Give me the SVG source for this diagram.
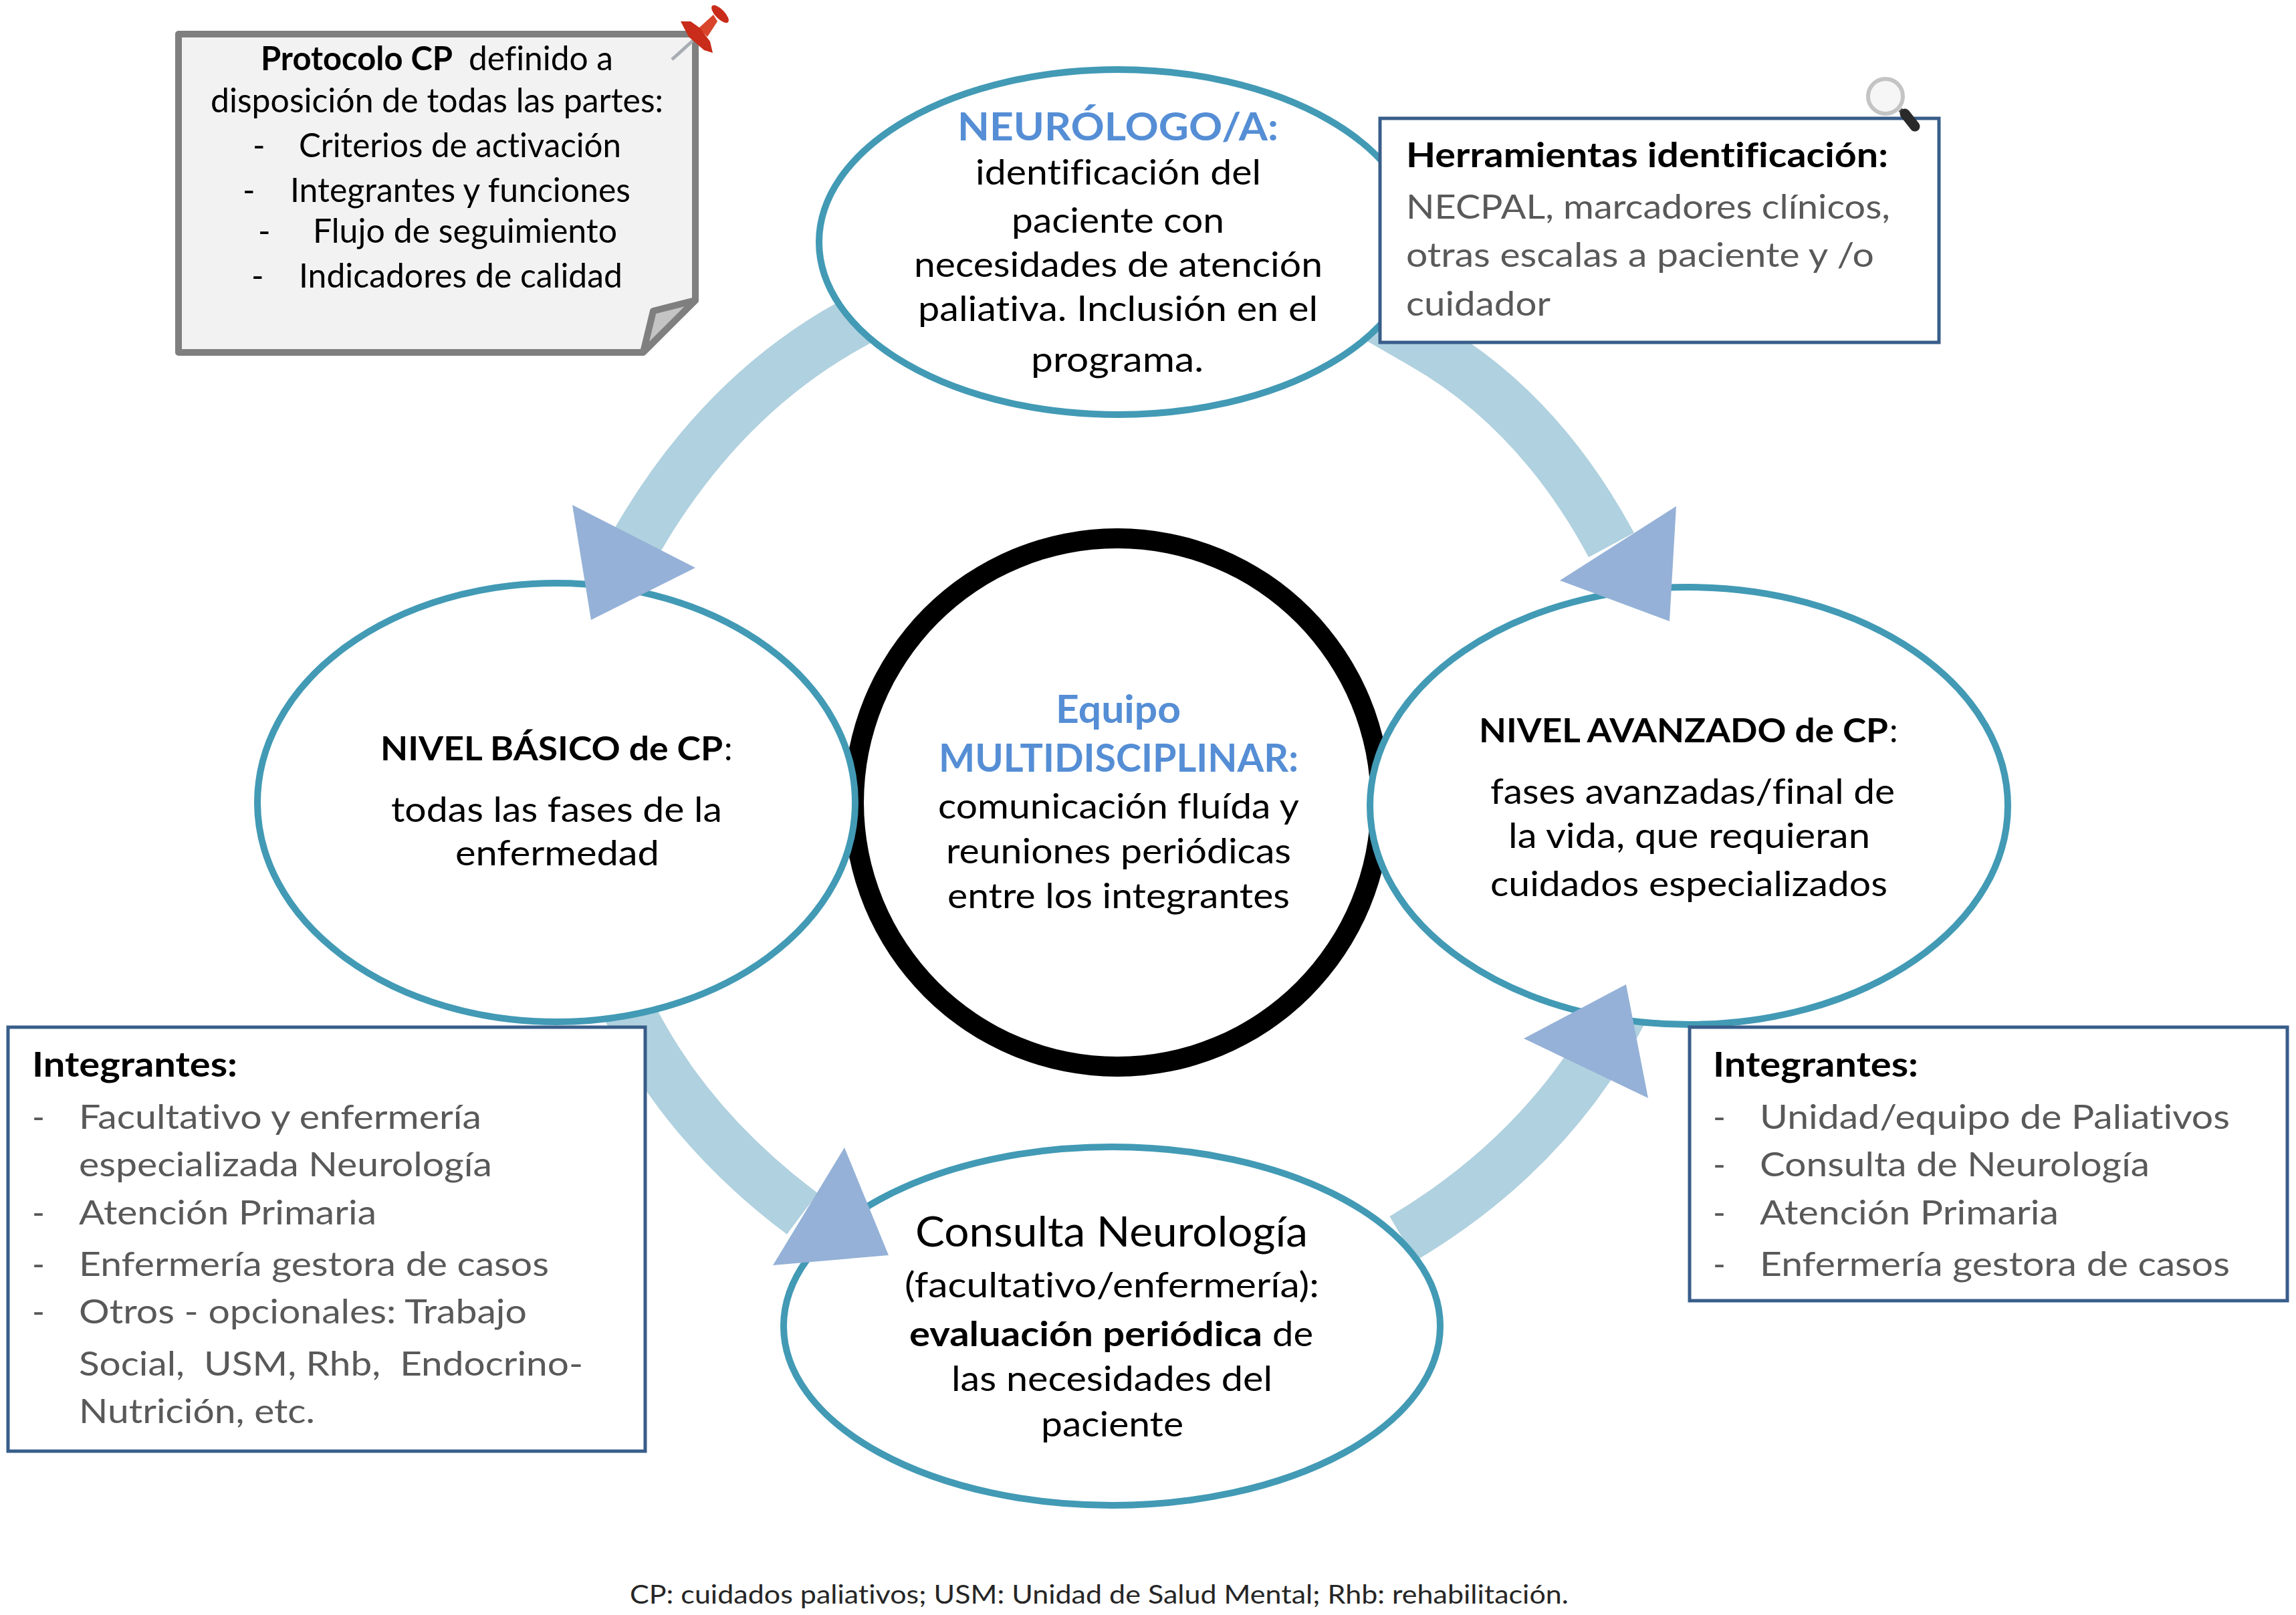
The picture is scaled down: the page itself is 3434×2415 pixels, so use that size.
<svg xmlns="http://www.w3.org/2000/svg" width="3434" height="2415" viewBox="0 0 3434 2415">
<style>
text{font-family:Lato,Carlito,"Liberation Sans",sans-serif;fill:#000;font-variant-ligatures:none}
.m{font-size:52px}
.n{font-size:50px}
.b{font-weight:700}
.g{fill:#595959;font-size:51px}
.h{font-weight:700;font-size:51px}
.blue{fill:#558ed5;font-weight:700;font-size:58px}
.f{font-size:38px;fill:#262626}
.el{fill:#fff;stroke:#429ab5;stroke-width:10}
.band{fill:none;stroke:#b0d1df;stroke-width:77}
.tri{fill:#95b1d7}
.box{fill:#fff;stroke:#385d8a;stroke-width:5}
</style>
<rect width="3434" height="2415" fill="#fff"/>
<g id="connectors">
<path class="band" d="M1300 470L1273 485Q1080 591 955 805L940 832"/>
<path class="band" d="M2040 463L2127 513Q2301 612 2410 815"/>
<path class="band" d="M935 1500Q1020 1680 1200 1815"/>
<path class="band" d="M2098 1852Q2320 1720 2430 1505"/>
</g>
<g id="node-equipo">
<ellipse cx="1671" cy="1200" rx="409" ry="410" fill="#000"/>
<ellipse cx="1671" cy="1200" rx="379" ry="380" fill="#fff"/>
<text class="blue" x="1579" y="1081" textLength="187" lengthAdjust="spacingAndGlyphs">Equipo</text>
<text class="blue" x="1404" y="1154" textLength="538" lengthAdjust="spacingAndGlyphs">MULTIDISCIPLINAR:</text>
<text class="m" x="1403" y="1224" textLength="540" lengthAdjust="spacingAndGlyphs">comunicación fluída y</text>
<text class="m" x="1415" y="1291" textLength="516" lengthAdjust="spacingAndGlyphs">reuniones periódicas</text>
<text class="m" x="1417" y="1358" textLength="512" lengthAdjust="spacingAndGlyphs">entre los integrantes</text>
</g>
<g id="node-neurologo">
<ellipse class="el" cx="1672" cy="362" rx="447" ry="258"/>
<text class="blue" x="1432" y="210" textLength="480" lengthAdjust="spacingAndGlyphs">NEURÓLOGO/A:</text>
<text class="m" x="1459" y="276" textLength="427" lengthAdjust="spacingAndGlyphs">identificación del</text>
<text class="m" x="1513" y="348" textLength="318" lengthAdjust="spacingAndGlyphs">paciente con</text>
<text class="m" x="1367" y="414" textLength="611" lengthAdjust="spacingAndGlyphs">necesidades de atención</text>
<text class="m" x="1373" y="480" textLength="598" lengthAdjust="spacingAndGlyphs">paliativa. Inclusión en el</text>
<text class="m" x="1542" y="556" textLength="258" lengthAdjust="spacingAndGlyphs">programa.</text>
</g>
<g id="node-basico">
<ellipse class="el" cx="832" cy="1200" rx="447" ry="328"/>
<text class="n b" x="569" y="1137" textLength="512" lengthAdjust="spacingAndGlyphs">NIVEL BÁSICO de CP</text>
<text class="n" x="1083" y="1137">:</text>
<text class="m" x="585" y="1229" textLength="495" lengthAdjust="spacingAndGlyphs">todas las fases de la</text>
<text class="m" x="681" y="1294" textLength="305" lengthAdjust="spacingAndGlyphs">enfermedad</text>
</g>
<g id="node-avanzado">
<ellipse class="el" cx="2526" cy="1205" rx="477" ry="327"/>
<text class="n b" x="2212" y="1110" textLength="612" lengthAdjust="spacingAndGlyphs">NIVEL AVANZADO de CP</text>
<text class="n" x="2826" y="1110">:</text>
<text class="m" x="2229" y="1202" textLength="605" lengthAdjust="spacingAndGlyphs">fases avanzadas/final de</text>
<text class="m" x="2256" y="1268" textLength="541" lengthAdjust="spacingAndGlyphs">la vida, que requieran</text>
<text class="m" x="2229" y="1340" textLength="594" lengthAdjust="spacingAndGlyphs">cuidados especializados</text>
</g>
<g id="node-consulta">
<ellipse class="el" cx="1663" cy="1983" rx="491" ry="268"/>
<text x="1369" y="1864" font-size="62" textLength="587" lengthAdjust="spacingAndGlyphs">Consulta Neurología</text>
<text class="m" x="1353" y="1940" textLength="620" lengthAdjust="spacingAndGlyphs">(facultativo/enfermería):</text>
<text class="m b" x="1360" y="2013" textLength="528" lengthAdjust="spacingAndGlyphs">evaluación periódica</text>
<text class="m" x="1903" y="2013" textLength="61" lengthAdjust="spacingAndGlyphs">de</text>
<text class="m" x="1423" y="2080" textLength="480" lengthAdjust="spacingAndGlyphs">las necesidades del</text>
<text class="m" x="1557" y="2148" textLength="213" lengthAdjust="spacingAndGlyphs">paciente</text>
</g>
<g id="arrowheads">
<polygon class="tri" points="856,755 1040,849 884,927"/>
<polygon class="tri" points="2507,757 2333,868 2497,929"/>
<polygon class="tri" points="1263,1716 1329,1877 1156,1892"/>
<polygon class="tri" points="2432,1472 2465,1642 2279,1553"/>
</g>
<g id="node-protocolo">
<path d="M267 51H1040V449L961 527H267Z" fill="#f2f2f2" stroke="#7f7f7f" stroke-width="10" stroke-linejoin="round"/>
<path d="M1040 449L977 465L962 527Z" fill="#c4c4c4" stroke="#7f7f7f" stroke-width="10" stroke-linejoin="round"/>
<text class="n b" x="390" y="105" textLength="287" lengthAdjust="spacingAndGlyphs">Protocolo CP</text>
<text class="n" x="701" y="105" textLength="216" lengthAdjust="spacingAndGlyphs">definido a</text>
<text class="n" x="315" y="168" textLength="677" lengthAdjust="spacingAndGlyphs">disposición de todas las partes:</text>
<text class="n" x="378" y="235">-</text>
<text class="n" x="447" y="235" textLength="482" lengthAdjust="spacingAndGlyphs">Criterios de activación</text>
<text class="n" x="363" y="302">-</text>
<text class="n" x="434" y="302" textLength="509" lengthAdjust="spacingAndGlyphs">Integrantes y funciones</text>
<text class="n" x="386" y="363">-</text>
<text class="n" x="468" y="363" textLength="455" lengthAdjust="spacingAndGlyphs">Flujo de seguimiento</text>
<text class="n" x="376" y="430">-</text>
<text class="n" x="447" y="430" textLength="484" lengthAdjust="spacingAndGlyphs">Indicadores de calidad</text>
<line x1="1005" y1="89" x2="1036" y2="61" stroke="#a9adb3" stroke-width="5"/>
<polygon points="1045,42 1058,55 1073,32 1067,22" fill="#d8452a"/>
<polygon points="1018,32 1033,32 1047,42 1062,62 1066,79 1053,75 1030,55" fill="#c92c1a"/>
<ellipse cx="1077" cy="21" rx="17" ry="7" transform="rotate(46 1077 21)" fill="#c92c1a"/>
</g>
<g id="node-herramientas">
<rect class="box" x="2064" y="177" width="836" height="335"/>
<text class="h" x="2103" y="250" textLength="721" lengthAdjust="spacingAndGlyphs">Herramientas identificación:</text>
<text class="g" x="2103" y="327" textLength="724" lengthAdjust="spacingAndGlyphs">NECPAL, marcadores clínicos,</text>
<text class="g" x="2103" y="399" textLength="700" lengthAdjust="spacingAndGlyphs">otras escalas a paciente y /o</text>
<text class="g" x="2103" y="472" textLength="216" lengthAdjust="spacingAndGlyphs">cuidador</text>
<line x1="2842" y1="164" x2="2848" y2="170" stroke="#555" stroke-width="7"/>
<line x1="2849" y1="170" x2="2864" y2="189" stroke="#2a2a2a" stroke-width="15" stroke-linecap="round"/>
<circle cx="2820" cy="144" r="26" fill="#f6f6f6" stroke="#c4c4c4" stroke-width="6"/>
</g>
<g id="node-integrantes-basico">
<rect class="box" x="12" y="1536" width="953" height="634"/>
<text class="h" x="48" y="1610" textLength="307" lengthAdjust="spacingAndGlyphs">Integrantes:</text>
<text class="g" x="48" y="1688">-</text>
<text class="g" x="118" y="1688" textLength="602" lengthAdjust="spacingAndGlyphs">Facultativo y enfermería</text>
<text class="g" x="118" y="1759" textLength="618" lengthAdjust="spacingAndGlyphs">especializada Neurología</text>
<text class="g" x="48" y="1831">-</text>
<text class="g" x="118" y="1831" textLength="445" lengthAdjust="spacingAndGlyphs">Atención Primaria</text>
<text class="g" x="48" y="1908">-</text>
<text class="g" x="118" y="1908" textLength="703" lengthAdjust="spacingAndGlyphs">Enfermería gestora de casos</text>
<text class="g" x="48" y="1979">-</text>
<text class="g" x="118" y="1979" textLength="670" lengthAdjust="spacingAndGlyphs">Otros - opcionales: Trabajo</text>
<text class="g" x="118" y="2057" textLength="754" lengthAdjust="spacingAndGlyphs" xml:space="preserve">Social,  USM, Rhb,  Endocrino-</text>
<text class="g" x="118" y="2128" textLength="353" lengthAdjust="spacingAndGlyphs">Nutrición, etc.</text>
</g>
<g id="node-integrantes-avanzado">
<rect class="box" x="2527" y="1536" width="894" height="409"/>
<text class="h" x="2562" y="1610" textLength="307" lengthAdjust="spacingAndGlyphs">Integrantes:</text>
<text class="g" x="2562" y="1688">-</text>
<text class="g" x="2632" y="1688" textLength="703" lengthAdjust="spacingAndGlyphs">Unidad/equipo de Paliativos</text>
<text class="g" x="2562" y="1759">-</text>
<text class="g" x="2632" y="1759" textLength="583" lengthAdjust="spacingAndGlyphs">Consulta de Neurología</text>
<text class="g" x="2562" y="1831">-</text>
<text class="g" x="2632" y="1831" textLength="447" lengthAdjust="spacingAndGlyphs">Atención Primaria</text>
<text class="g" x="2562" y="1908">-</text>
<text class="g" x="2632" y="1908" textLength="703" lengthAdjust="spacingAndGlyphs">Enfermería gestora de casos</text>
</g>
<text class="f" x="942" y="2398" textLength="1404" lengthAdjust="spacingAndGlyphs">CP: cuidados paliativos; USM: Unidad de Salud Mental; Rhb: rehabilitación.</text>
</svg>
